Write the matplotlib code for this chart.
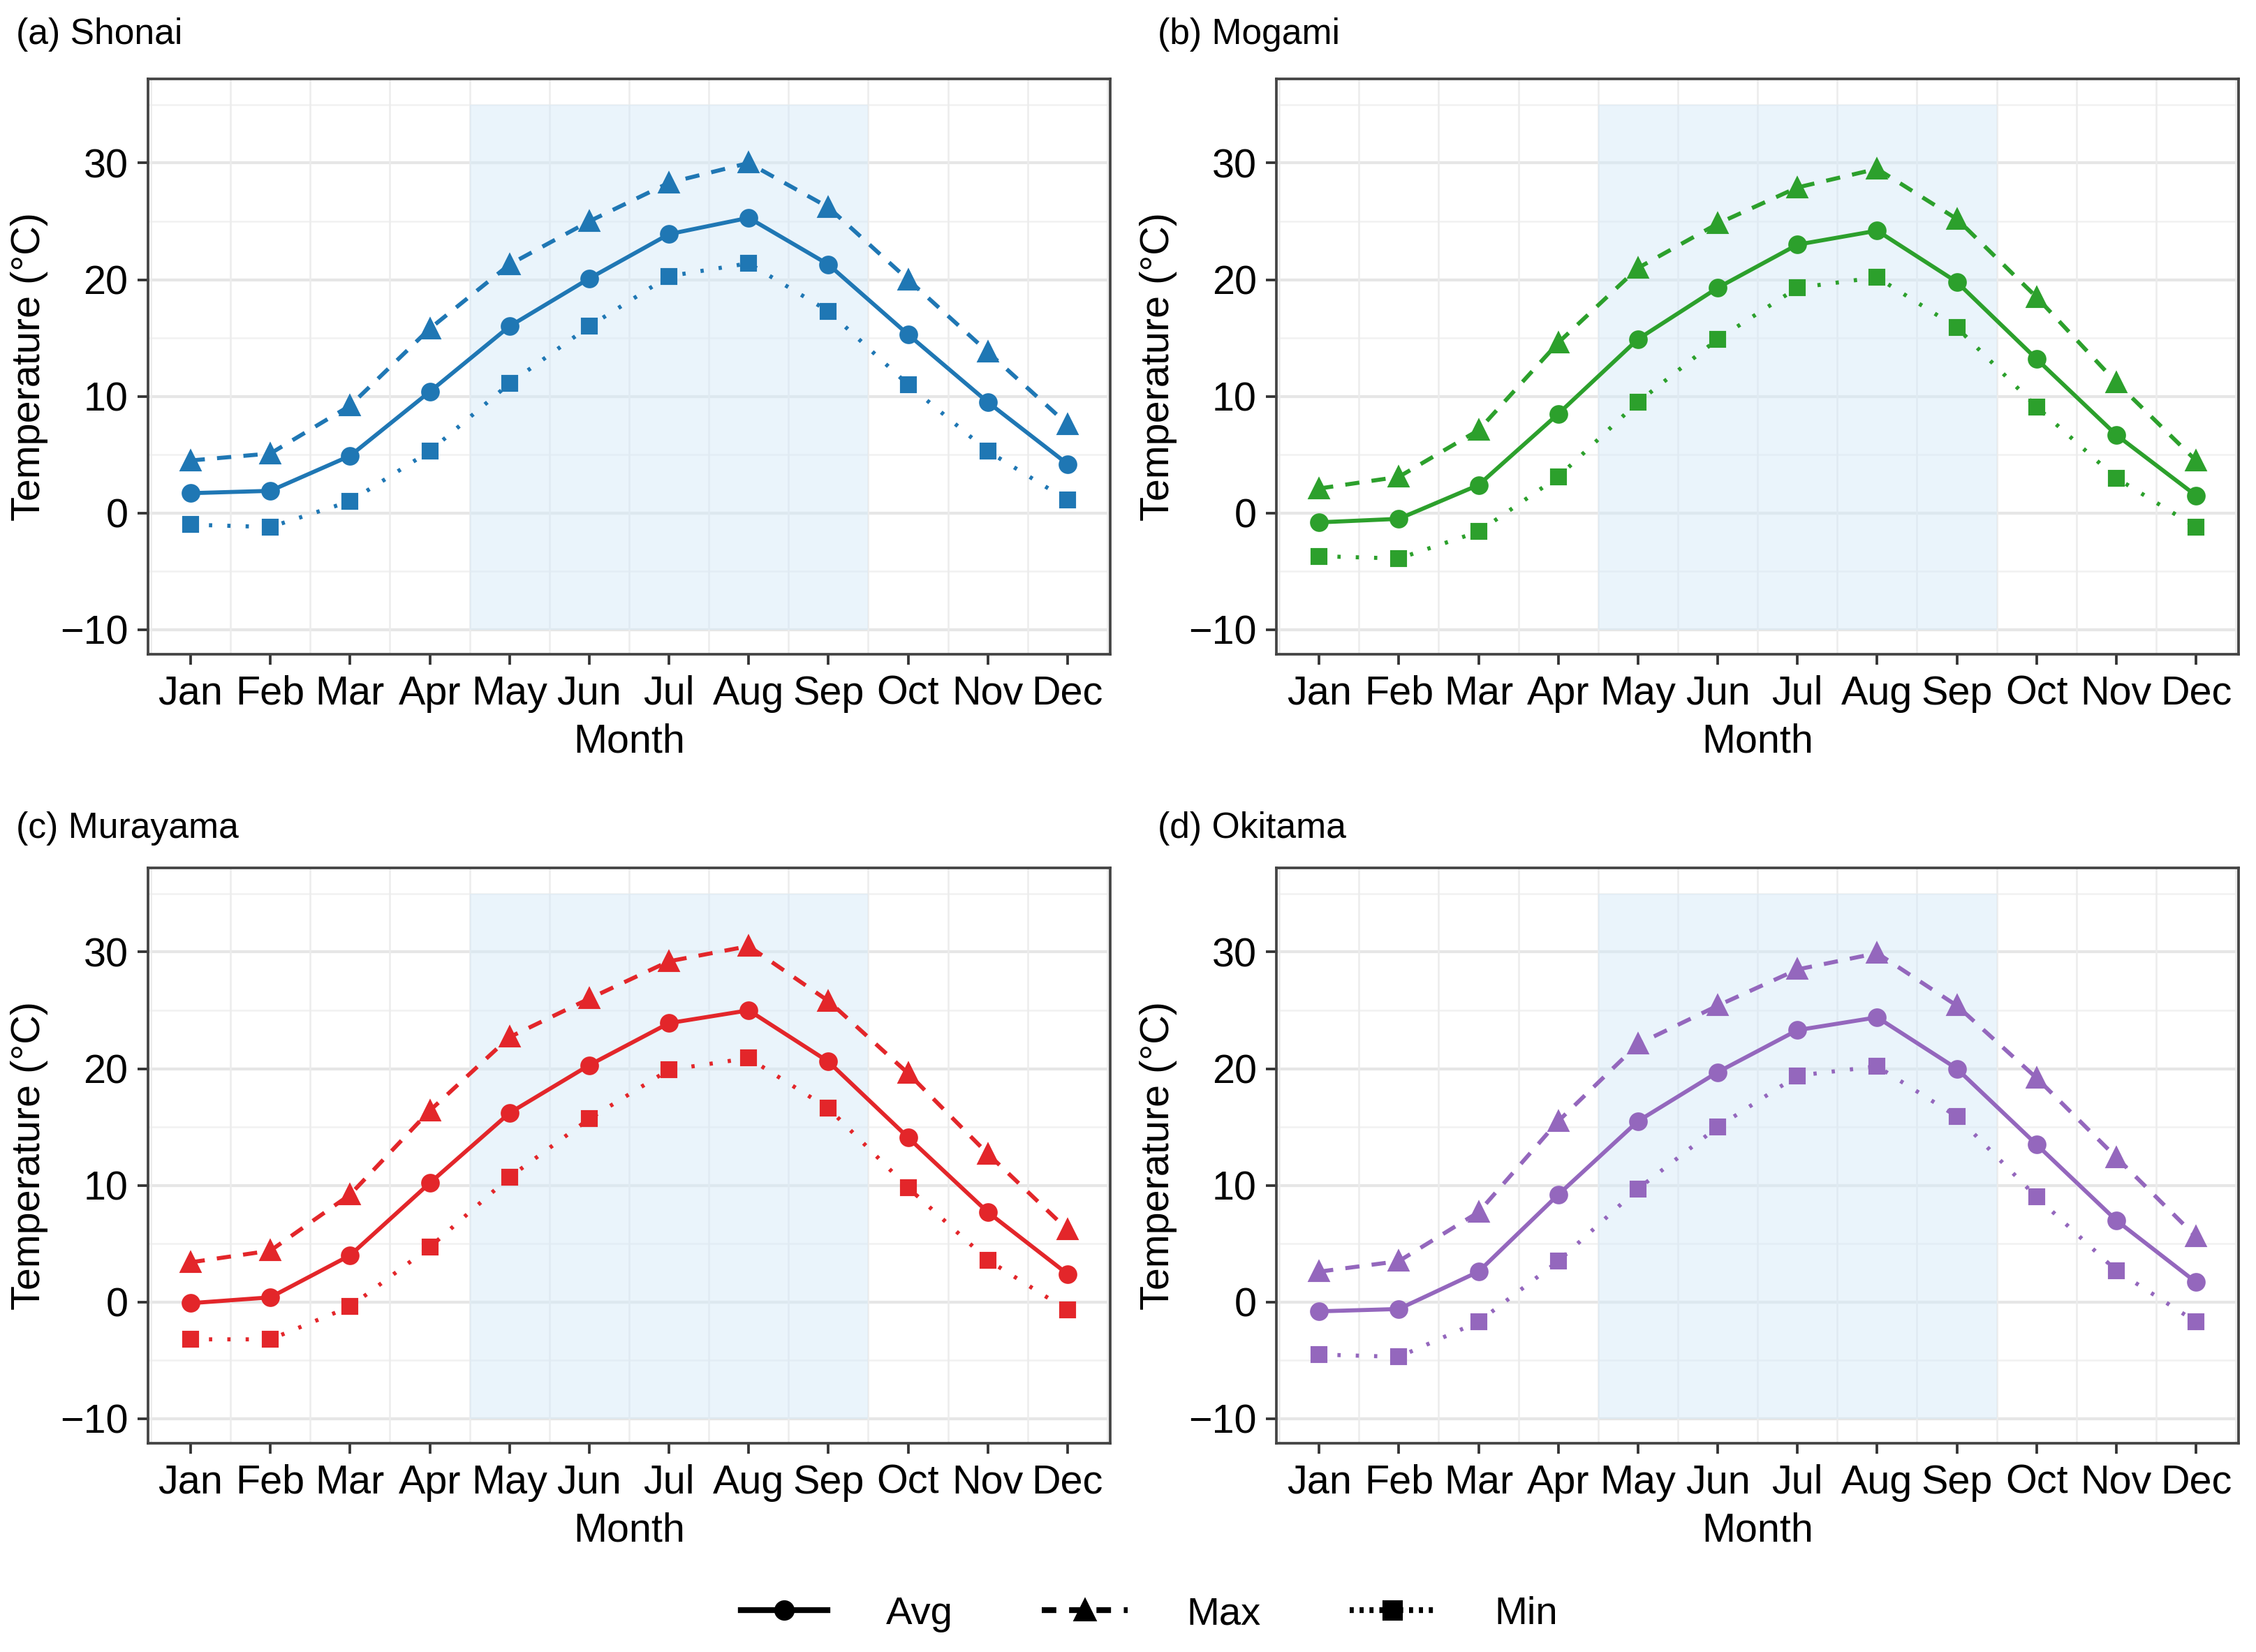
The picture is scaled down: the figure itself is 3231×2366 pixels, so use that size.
import matplotlib

matplotlib.use("Agg")
import matplotlib.pyplot as plt
from matplotlib.lines import Line2D

plt.rcParams.update({
    "font.family": ["Liberation Sans", "DejaVu Sans"],
    "font.size": 13.5,
})

MONTHS = ["Jan", "Feb", "Mar", "Apr", "May", "Jun",
          "Jul", "Aug", "Sep", "Oct", "Nov", "Dec"]
X = list(range(1, 13))

TITLES = ["(a) Shonai", "(b) Mogami", "(c) Murayama", "(d) Okitama"]
COLORS = ["#1f77b4", "#2ca02c", "#e3262a", "#9467bd"]

shonai_avg = [1.7, 1.9, 4.9, 10.4, 16.0, 20.1, 23.9, 25.3, 21.3, 15.3, 9.5, 4.2]
shonai_max = [4.5, 5.1, 9.2, 15.8, 21.3, 25.0, 28.3, 30.0, 26.2, 20.0, 13.8, 7.6]
shonai_min = [-1.0, -1.2, 1.0, 5.3, 11.1, 16.0, 20.3, 21.4, 17.3, 11.0, 5.3, 1.1]

mogami_avg = [-0.8, -0.5, 2.4, 8.5, 14.9, 19.3, 23.0, 24.2, 19.8, 13.2, 6.7, 1.5]
mogami_max = [2.1, 3.1, 7.1, 14.6, 21.0, 24.8, 27.9, 29.5, 25.2, 18.5, 11.2, 4.5]
mogami_min = [-3.7, -3.9, -1.6, 3.1, 9.5, 14.9, 19.3, 20.2, 15.9, 9.1, 3.0, -1.2]

murayama_avg = [-0.1, 0.4, 4.0, 10.2, 16.2, 20.3, 23.9, 25.0, 20.6, 14.1, 7.7, 2.4]
murayama_max = [3.4, 4.4, 9.2, 16.4, 22.7, 26.0, 29.2, 30.5, 25.8, 19.6, 12.7, 6.2]
murayama_min = [-3.2, -3.2, -0.4, 4.7, 10.7, 15.7, 19.9, 20.9, 16.6, 9.8, 3.6, -0.7]

okitama_avg = [-0.8, -0.6, 2.6, 9.2, 15.5, 19.7, 23.3, 24.4, 20.0, 13.5, 7.0, 1.7]
okitama_max = [2.6, 3.5, 7.7, 15.5, 22.1, 25.4, 28.5, 29.9, 25.4, 19.2, 12.4, 5.6]
okitama_min = [-4.5, -4.7, -1.7, 3.5, 9.7, 15.0, 19.4, 20.2, 15.9, 9.0, 2.7, -1.7]

REGIONS = [
    (shonai_avg, shonai_max, shonai_min),
    (mogami_avg, mogami_max, mogami_min),
    (murayama_avg, murayama_max, murayama_min),
    (okitama_avg, okitama_max, okitama_min),
]

# May-Sep shaded band, y extent of band
BAND_X = (4.5, 9.5)
BAND_Y = (-10, 35)

W = 3231 / 300
H = 2366 / 300
fig = plt.figure(figsize=(W, H), dpi=300)

ax_w, ax_h = 0.4265, 0.3482
positions = [
    (0.0656, 0.6040),
    (0.5658, 0.6040),
    (0.0656, 0.1264),
    (0.5658, 0.1264),
]
title_pos = [(0.0071, 0.979), (0.513, 0.979), (0.0071, 0.4987), (0.513, 0.4987)]

DASHED = (0, (3.5, 3.0))
DOTTED = (0, (0.8, 3.7))

for i, (avg, tmax, tmin) in enumerate(REGIONS):
    left, bottom = positions[i]
    ax = fig.add_axes([left, bottom, ax_w, ax_h])
    c = COLORS[i]

    # grid
    for y in [-10, 0, 10, 20, 30]:
        ax.axhline(y, color="#e6e6e6", lw=1.0, zorder=0.3)
    for y in [-5, 5, 15, 25, 35]:
        ax.axhline(y, color="#f1f1f1", lw=0.6, zorder=0.3)
    for k in range(13):
        ax.axvline(k + 0.5, color="#ececec", lw=0.6, zorder=0.3)

    ax.fill_between(BAND_X, BAND_Y[0], BAND_Y[1], color="#d6eaf8",
                    alpha=0.5, lw=0, zorder=0.5)

    ax.plot(X, avg, color=c, lw=1.4, marker="o", ms=5.4, zorder=3)
    ax.plot(X, tmax, color=c, lw=1.4, ls=DASHED, marker="^", ms=6.2, zorder=3)
    ax.plot(X, tmin, color=c, lw=1.4, ls=DOTTED, marker="s", ms=4.8, zorder=3)

    ax.set_xlim(0.465, 12.535)
    ax.set_ylim(-12.1, 37.2)
    ax.set_xticks(X)
    ax.set_xticklabels(MONTHS)
    ax.set_yticks([-10, 0, 10, 20, 30])
    ax.tick_params(axis="both", length=3.6, width=0.9, color="#333333",
                   labelsize=13.8, labelcolor="black")
    ax.tick_params(axis="x", pad=3.6)
    ax.tick_params(axis="y", pad=3.2)
    for s in ax.spines.values():
        s.set_color("#444444")
        s.set_linewidth(0.9)

    ax.set_xlabel("Month", fontsize=13.8, labelpad=3.5)
    ax.set_ylabel("Temperature (°C)", fontsize=13.8, labelpad=4)

    tx, ty = title_pos[i]
    fig.text(tx, ty, TITLES[i], fontsize=12.4, ha="left", va="center")

handles = [
    Line2D([], [], color="black", lw=2.0, ls="-", marker="o", ms=6),
    Line2D([], [], color="black", lw=2.0, ls=(0, (2.5, 2.2)), marker="^", ms=6.5),
    Line2D([], [], color="black", lw=2.0, ls=(0, (0.7, 1.0)), marker="s", ms=6),
]
fig.legend(handles, ["Avg", "Max", "Min"], loc="center",
           bbox_to_anchor=(0.5095, 0.0228), ncol=3, frameon=False,
           fontsize=13.5, handlelength=2.2, handletextpad=1.5,
           columnspacing=2.25)

fig.savefig("out.png", dpi=300)
